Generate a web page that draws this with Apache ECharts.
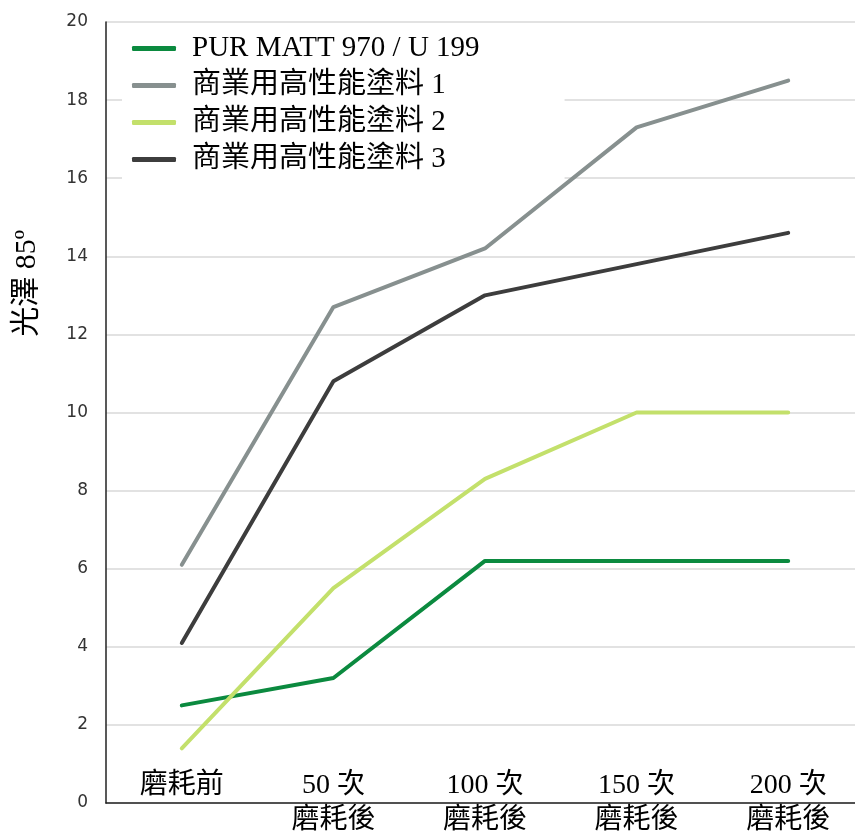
<!DOCTYPE html>
<html>
<head>
<meta charset="utf-8">
<script src="https://cdn.jsdelivr.net/npm/echarts@6/dist/echarts.min.js"></script>
<style>
html, body { margin: 0; padding: 0; background: #fff; }
#content-data { width: 855px; height: 831px; }
</style>
</head>
<body>
<div id="content-data"></div>
<script>
var categories = ['磨耗前\n ', '50 次\n磨耗後', '100 次\n磨耗後', '150 次\n磨耗後', '200 次\n磨耗後'];
var seriesNames = ['PUR MATT 970 / U 199', '商業用高性能塗料 1', '商業用高性能塗料 2', '商業用高性能塗料 3'];
var purMatt = [2.5, 3.2, 6.2, 6.2, 6.2];
var coating1 = [6.1, 12.7, 14.2, 17.3, 18.5];
var coating2 = [1.4, 5.5, 8.3, 10.0, 10.0];
var coating3 = [4.1, 10.8, 13.0, 13.8, 14.6];
var colors = ['#0b8a3f', '#87908f', '#c3e06b', '#3d3d3d'];

function graphic1(){
	var dom = document.getElementById('content-data');
	var myChart = echarts.init(dom, null, {
		renderer: 'canvas',
		useDirtyRect: false
	});

	var serif = '"Liberation Serif", "Noto Sans CJK TC", serif';
	var allData = [purMatt, coating1, coating2, coating3];

	var option = {
		animation: false,
		color: colors,
		grid: {
			left: 106,
			right: -9,
			top: 22,
			bottom: 28,
			outerBoundsMode: 'none'
		},
		legend: {
			orient: 'vertical',
			left: 122,
			top: 25,
			z: 1,
			padding: [5, 85, 12, 10],
			backgroundColor: '#fff',
			itemWidth: 44,
			itemHeight: 5,
			itemGap: 0,
			icon: 'roundRect',
			textStyle: {
				fontFamily: serif,
				fontSize: 29,
				color: '#000',
				lineHeight: 37,
				padding: [0, 0, 0, 11]
			},
			data: seriesNames
		},
		graphic: [
			{
				type: 'text',
				left: 12,
				top: 230,
				rotation: Math.PI / 2,
				style: {
					text: '光澤 85º',
					font: '30px ' + serif,
					fill: '#000'
				}
			}
		],
		xAxis: {
			type: 'category',
			data: categories,
			boundaryGap: true,
			axisLine: { lineStyle: { color: '#222', width: 1.5 } },
			axisTick: { show: false },
			axisLabel: {
				margin: 0,
				verticalAlign: 'middle',
				fontFamily: serif,
				fontSize: 28,
				lineHeight: 35,
				color: '#000'
			}
		},
		yAxis: {
			type: 'value',
			min: 0,
			max: 20,
			interval: 2,
			axisLine: { show: true, lineStyle: { color: '#222', width: 1.5 } },
			axisTick: { show: false },
			axisLabel: {
				margin: 18,
				fontFamily: '"DejaVu Sans", sans-serif',
				fontSize: 17,
				color: '#333'
			},
			splitLine: { lineStyle: { color: '#d9d9d9', width: 1.5 } }
		},
		series: seriesNames.map(function(name, i){
			return {
				name: name,
				type: 'line',
				data: allData[i],
				symbol: 'none',
				lineStyle: { width: 4, color: colors[i], cap: 'round' }
			};
		})
	};

	if (option && typeof option === 'object') {
		myChart.setOption(option);
	}

	window.addEventListener('resize', myChart.resize);
}
graphic1()
</script>
</body>
</html>
